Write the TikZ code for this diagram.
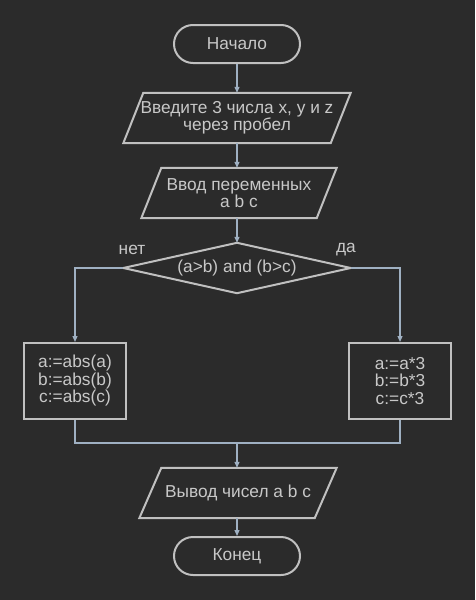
\documentclass[tikz,border=0pt]{standalone}
\usepackage{fontspec}
\setmainfont{Liberation Sans}
\usetikzlibrary{arrows.meta}
\definecolor{bg}{HTML}{2B2B2B}
\definecolor{shp}{HTML}{C0C0C0}
\definecolor{txt}{HTML}{C8C8C8}
\definecolor{con}{HTML}{9FB0C2}
\tikzset{
  base/.style={text=txt, font=\fontsize{17.3}{17.5}\selectfont, align=center, inner sep=0pt},
  term/.style={base, draw=shp, line width=2pt, rounded corners=19pt, minimum width=126pt, minimum height=38pt},
  plain/.style={base, minimum height=50pt},
  procbox/.style={base, draw=shp, line width=2pt, minimum width=102pt, minimum height=76pt},
  shapeline/.style={draw=shp, line width=2pt, line join=miter},
  conn/.style={draw=con, line width=1.2pt},
  arr/.style={conn, -{Triangle[width=5pt,length=6pt]}},
  lbl/.style={text=txt, font=\fontsize{17.3}{17.5}\selectfont, inner sep=0pt}
}
\begin{document}
\begin{tikzpicture}[x=1pt,y=-1pt]
\fill[bg] (0,0) rectangle (475,600);
\useasboundingbox (0,0) rectangle (475,600);

\node[term] (start) at (237,44) {Начало};

\node[plain, minimum width=207pt] (p1) at (237,118) {Введите 3 числа x, y и z\\через пробел};
\draw[shapeline] ([xshift=10pt]p1.north west) -- ([xshift=10pt]p1.north east) -- ([xshift=-10pt]p1.south east) -- ([xshift=-10pt]p1.south west) -- cycle;

\node[plain, minimum width=175pt] (p2) at (239,193) {Ввод переменных\\a b c};
\draw[shapeline] ([xshift=10pt]p2.north west) -- ([xshift=10pt]p2.north east) -- ([xshift=-10pt]p2.south east) -- ([xshift=-10pt]p2.south west) -- cycle;

\node[plain, minimum width=227pt] (d) at (237,268) {(a>b) and (b>c)};
\draw[shapeline] (d.north) -- (d.east) -- (d.south) -- (d.west) -- cycle;

\node[lbl] (no) at (132,250) {нет};
\node[lbl] (yes) at (346,250) {да};

\node[procbox] (lbox) at (75,381) {a:=abs(a)\\b:=abs(b)\\c:=abs(c)};
\node[procbox] (rbox) at (400,381) {a:=a*3\\b:=b*3\\c:=c*3};

\coordinate (j) at (237,443);

\node[plain, minimum width=175pt] (p3) at (238,493) {Вывод чисел a b c};
\draw[shapeline] ([xshift=11pt]p3.north west) -- ([xshift=11pt]p3.north east) -- ([xshift=-11pt]p3.south east) -- ([xshift=-11pt]p3.south west) -- cycle;

\node[term] (end) at (237,556) {Конец};

\draw[arr] (start.south) -- (start.south |- p1.north);
\draw[arr] (p1.south -| start.south) -- (start.south |- p2.north);
\draw[arr] (p2.south -| start.south) -- (d.north);
\draw[arr] (d.west) -| (lbox.north);
\draw[arr] (d.east) -| (rbox.north);
\draw[conn] (lbox.south) |- (j) -| (rbox.south);
\draw[arr] (j) -- (j |- p3.north);
\draw[arr] (p3.south -| j) -- (end.north);
\end{tikzpicture}
\end{document}
